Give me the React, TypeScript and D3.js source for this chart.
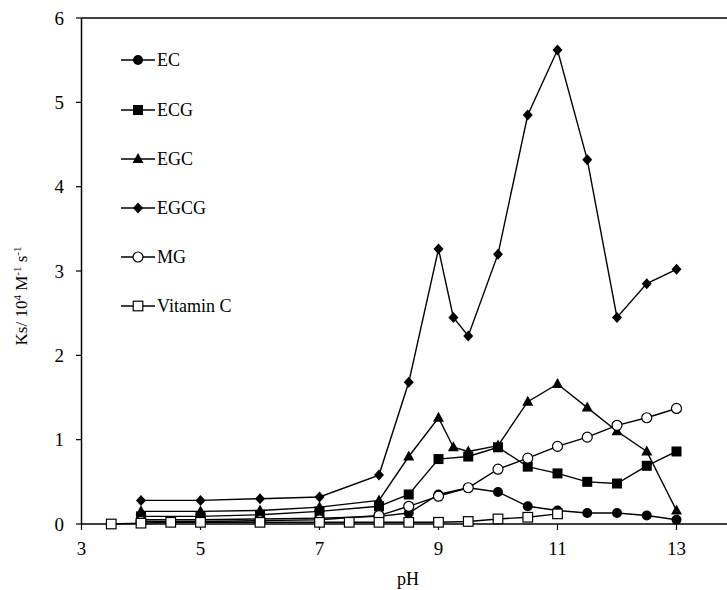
import * as d3 from 'd3';

// pH values for the catechins and MG
const phMain = [4, 5, 6, 7, 8, 8.5, 9, 9.5, 10, 10.5, 11, 11.5, 12, 12.5, 13];
const phEgc = [4, 5, 6, 7, 8, 8.5, 9, 9.25, 9.5, 10, 10.5, 11, 11.5, 12, 12.5, 13];
const phVitC = [3.5, 4, 4.5, 5, 6, 7, 7.5, 8, 8.5, 9, 9.5, 10, 10.5, 11];

const ecValues = [0.05, 0.05, 0.06, 0.07, 0.09, 0.13, 0.35, 0.43, 0.38, 0.21, 0.16, 0.13, 0.13, 0.1, 0.05];
const ecgValues = [0.09, 0.09, 0.11, 0.15, 0.21, 0.35, 0.77, 0.8, 0.91, 0.68, 0.6, 0.5, 0.48, 0.69, 0.86];
const egcValues = [0.15, 0.15, 0.16, 0.2, 0.28, 0.8, 1.26, 0.91, 0.86, 0.93, 1.45, 1.66, 1.38, 1.1, 0.86, 0.16];
const egcgValues = [0.28, 0.28, 0.3, 0.32, 0.58, 1.68, 3.26, 2.45, 2.23, 3.2, 4.85, 5.62, 4.32, 2.45, 2.85, 3.02];
const mgValues = [0.03, 0.03, 0.04, 0.05, 0.1, 0.21, 0.33, 0.43, 0.65, 0.78, 0.92, 1.03, 1.17, 1.26, 1.37];
const vitCValues = [0.0, 0.01, 0.02, 0.02, 0.02, 0.02, 0.02, 0.02, 0.02, 0.02, 0.03, 0.06, 0.08, 0.12];

const xTicks = [3, 5, 7, 9, 11, 13];
const yTicks = [0, 1, 2, 3, 4, 5, 6];

type Marker = 'circle' | 'square' | 'triangle' | 'diamond' | 'openCircle' | 'openSquare';

const series: { name: string; ph: number[]; values: number[]; marker: Marker }[] = [
  { name: 'EC', ph: phMain, values: ecValues, marker: 'circle' },
  { name: 'ECG', ph: phMain, values: ecgValues, marker: 'square' },
  { name: 'EGC', ph: phEgc, values: egcValues, marker: 'triangle' },
  { name: 'EGCG', ph: phEgc, values: egcgValues, marker: 'diamond' },
  { name: 'MG', ph: phMain, values: mgValues, marker: 'openCircle' },
  { name: 'Vitamin C', ph: phVitC, values: vitCValues, marker: 'openSquare' },
];

const W = 727;
const H = 590;
const FONT = '"Liberation Serif", "Times New Roman", serif';

const x = d3.scaleLinear().domain([3, 13]).range([81.5, 676.5]);
const y = d3.scaleLinear().domain([0, 6]).range([524, 18]);

const drawMarker = (m: Marker, cx: number, cy: number, key: string | number) => {
  switch (m) {
    case 'circle':
      return <circle key={key} cx={cx} cy={cy} r={5} fill="#000" />;
    case 'openCircle':
      return <circle key={key} cx={cx} cy={cy} r={5} fill="#fff" stroke="#000" strokeWidth={1.2} />;
    case 'square':
      return <rect key={key} x={cx - 5} y={cy - 5} width={10} height={10} fill="#000" />;
    case 'openSquare':
      return <rect key={key} x={cx - 4.8} y={cy - 4.8} width={9.6} height={9.6} fill="#fff" stroke="#000" strokeWidth={1.2} />;
    case 'triangle':
      return <path key={key} d={`M${cx},${cy - 6} L${cx + 5.5},${cy + 4} L${cx - 5.5},${cy + 4} Z`} fill="#000" />;
    case 'diamond':
      return <path key={key} d={`M${cx},${cy - 5.5} L${cx + 5},${cy} L${cx},${cy + 5.5} L${cx - 5},${cy} Z`} fill="#000" />;
  }
};

export default function App() {
  const line = d3
    .line<[number, number]>()
    .x((d) => x(d[0]))
    .y((d) => y(d[1]));

  const legendY = [60, 110, 159, 208, 257, 306];

  return (
    <svg width={W} height={H} style={{ position: 'absolute', left: 0, top: 0, background: '#fff' }} fontFamily={FONT}>
      {/* axes */}
      <line x1={81.5} x2={81.5} y1={18} y2={524} stroke="#000" strokeWidth={1.5} />
      <line x1={81.5} x2={W} y1={524} y2={524} stroke="#000" strokeWidth={1.5} />
      <line x1={81.5} x2={W} y1={18} y2={18} stroke="#000" strokeWidth={1.5} />
      {yTicks.map((t) => (
        <g key={t}>
          <line x1={76} x2={81.5} y1={y(t)} y2={y(t)} stroke="#000" strokeWidth={1.2} />
          <text x={64} y={y(t)} dy="0.35em" textAnchor="end" fontSize={19}>
            {t}
          </text>
        </g>
      ))}
      {xTicks.map((t) => (
        <g key={t}>
          <line x1={x(t)} x2={x(t)} y1={524} y2={530} stroke="#000" strokeWidth={1.2} />
          <text x={x(t)} y={555} textAnchor="middle" fontSize={19}>
            {t}
          </text>
        </g>
      ))}
      <text x={408} y={585} textAnchor="middle" fontSize={18}>
        pH
      </text>
      <text transform="translate(27,296) rotate(-90)" textAnchor="middle" fontSize={17}>
        Ks/ 10<tspan dy={-6} fontSize={11}>4</tspan>
        <tspan dy={6}> M</tspan>
        <tspan dy={-6} fontSize={11}>-1</tspan>
        <tspan dy={6}> s</tspan>
        <tspan dy={-6} fontSize={11}>-1</tspan>
      </text>

      {/* series */}
      {series.map((s) => {
        const pts = s.ph.map((p, i) => [p, s.values[i]] as [number, number]);
        return (
          <g key={s.name}>
            <path d={line(pts) ?? ''} fill="none" stroke="#000" strokeWidth={1.4} />
            {pts.map((d, i) => drawMarker(s.marker, x(d[0]), y(d[1]), i))}
          </g>
        );
      })}

      {/* legend */}
      {series.map((s, i) => (
        <g key={s.name}>
          <line x1={121} x2={155} y1={legendY[i]} y2={legendY[i]} stroke="#000" strokeWidth={1.4} />
          {drawMarker(s.marker, 138, legendY[i], 'm')}
          <text x={157} y={legendY[i]} dy="0.35em" fontSize={18}>
            {s.name}
          </text>
        </g>
      ))}
    </svg>
  );
}
